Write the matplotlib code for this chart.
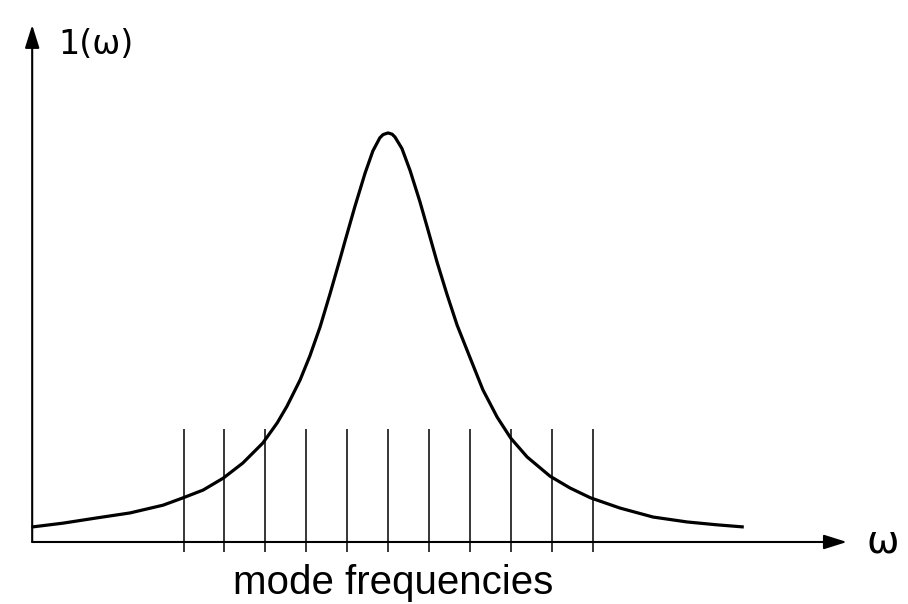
import matplotlib
matplotlib.use("Agg")
import matplotlib.pyplot as plt

# mode frequencies (in units of the mode spacing, centred on the line peak)
mode_freqs = [-5, -4, -3, -2, -1, 0, 1, 2, 3, 4, 5]

# gain line shape I(w) (peak = 1)
curve_w = [-8.68, -7.95, -7.11, -6.31, -5.50, -5.01, -4.52, -4.03, -3.55, -3.06,
           -2.71, -2.47, -2.15, -1.91, -1.66, -1.42, -1.17, -1.05, -0.81, -0.56,
           -0.37, -0.20, -0.12, 0.00, 0.10, 0.17, 0.34, 0.54, 0.78, 0.98,
           1.20, 1.44, 1.69, 2.00, 2.32, 2.67, 3.00, 3.40, 3.96, 4.45,
           4.95, 5.67, 6.48, 7.31, 8.04, 8.66]
curve_I = [0.037, 0.046, 0.059, 0.071, 0.090, 0.108, 0.127, 0.156, 0.193, 0.242,
           0.291, 0.332, 0.396, 0.455, 0.526, 0.606, 0.693, 0.736, 0.820, 0.902,
           0.956, 0.988, 0.996, 1.000, 0.997, 0.990, 0.962, 0.908, 0.832, 0.762,
           0.684, 0.606, 0.530, 0.452, 0.372, 0.305, 0.254, 0.208, 0.161, 0.132,
           0.108, 0.083, 0.061, 0.049, 0.042, 0.037]

w_axis_start = -8.70
w_axis_end = 11.22
I_axis_end = 1.264

fig = plt.figure(figsize=(9.08, 6.04), dpi=100)
ax = fig.add_axes([0, 0, 1, 1])
ax.set_xlim(-9.487, 12.714)
ax.set_ylim(-0.1516, 1.325)
ax.axis("off")

# axes with arrows
arrow = dict(arrowstyle="-|>,head_length=0.7,head_width=0.22", color="black",
             lw=1.5, mutation_scale=20, shrinkA=0, shrinkB=0)
ax.annotate("", xy=(w_axis_start, I_axis_end), xytext=(w_axis_start, 0), arrowprops=arrow)
ax.annotate("", xy=(w_axis_end, 0), xytext=(w_axis_start, 0), arrowprops=arrow)

# mode lines
ax.vlines(mode_freqs, -0.024, 0.276, color="black", lw=1.1)

# line shape
ax.plot(curve_w, curve_I, color="black", lw=2.3, solid_joinstyle="round")

ax.text(-8.07, 1.215, "1(ω)", fontsize=24, ha="left", va="center",
        family="DejaVu Sans")
ax.text(11.71, 0.0, "ω", fontsize=28, ha="left", va="center",
        family="DejaVu Sans")
ax.text(0.12, -0.127, "mode frequencies", fontsize=29, ha="center",
        va="baseline", family="Liberation Sans")

fig.savefig("out.png", dpi=100)
